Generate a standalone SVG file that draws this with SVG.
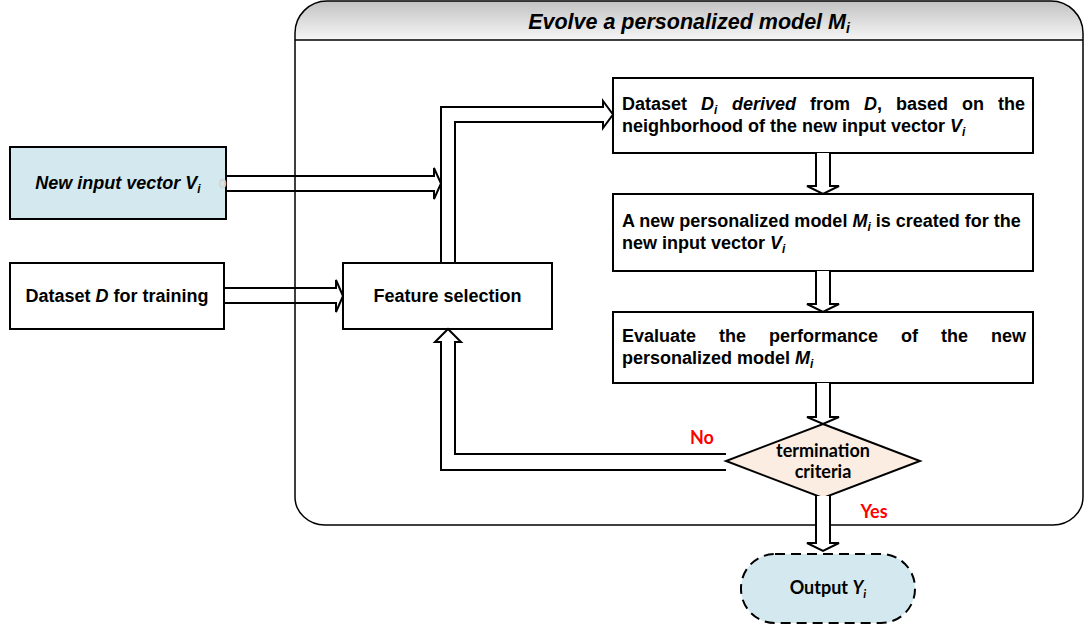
<svg xmlns="http://www.w3.org/2000/svg" width="1085" height="627" viewBox="0 0 1085 627">
  <defs>
    <linearGradient id="headerFill" x1="0" y1="0" x2="0" y2="1">
      <stop offset="0" stop-color="#c2c2c2"/>
      <stop offset="1" stop-color="#f6f6f6"/>
    </linearGradient>
    <style>
      .box { fill: #ffffff; stroke: #000; stroke-width: 2; }
      .blue { fill: #d3e9ef; }
      .txt { font-family: "Liberation Sans", Arial, sans-serif; font-weight: bold; font-size: 18px; fill: #000; }
      .it { font-style: italic; }
      .sub { font-style: italic; font-size: 12px; }
      .title { font-size: 21.5px; }
      .titleSub { font-size: 14px; }
      .cal { font-family: Lato, "Liberation Sans", sans-serif; font-weight: bold; font-size: 18px; }
      .red { fill: #ff0000; }
      .arrow { fill: none; stroke: #000; stroke-width: 2; stroke-linejoin: miter; }
      .arrowFilled { fill: #ffffff; stroke: #000; stroke-width: 2; stroke-linejoin: miter; }
    </style>
  </defs>

  <rect width="1085" height="627" fill="#ffffff"/>

  <!-- outer process frame with shaded title band -->
  <g id="evolve-frame">
    <path d="M295,40 V33 A32,32 0 0 1 327,1 H1051 A32,32 0 0 1 1083,33 V40 Z" fill="url(#headerFill)"/>
    <path d="M295,33 A32,32 0 0 1 327,1 H1051 A32,32 0 0 1 1083,33 V497 A30,28 0 0 1 1053,525 H325 A30,28 0 0 1 295,497 Z" fill="none" stroke="#000" stroke-width="1.5"/>
    <line x1="295" y1="40" x2="1083" y2="40" stroke="#000" stroke-width="1.5"/>
    <text class="txt it title" x="689" y="29" text-anchor="middle">Evolve a personalized model M<tspan class="sub titleSub" dy="4">i</tspan></text>
  </g>

  <g id="new-input-vector">
    <rect class="box blue" x="10" y="147" width="216" height="72"/>
    <text class="txt it" x="118" y="189" text-anchor="middle">New input vector V<tspan class="sub" dy="4">i</tspan></text>
    <text x="219" y="188" font-family="Liberation Sans, sans-serif" font-size="13" fill="#ffffff" stroke="#c4c4c4" stroke-width="0.6">0</text>
  </g>

  <g id="dataset-d">
    <rect class="box" x="10" y="263" width="214" height="66"/>
    <text class="txt" x="117" y="302" text-anchor="middle">Dataset <tspan class="it">D</tspan> for training</text>
  </g>

  <g id="feature-selection">
    <rect class="box" x="343" y="263" width="209" height="66"/>
    <text class="txt" x="447.5" y="302" text-anchor="middle">Feature selection</text>
  </g>

  <g id="dataset-di">
    <rect class="box" x="613" y="78" width="420" height="75"/>
    <text class="txt" y="110"><tspan x="622">Dataset</tspan><tspan x="701" class="it">D</tspan><tspan class="sub" dy="4">i</tspan><tspan x="732" dy="-4" class="it">derived</tspan><tspan x="810">from</tspan><tspan x="864"><tspan class="it">D</tspan>,</tspan><tspan x="896">based</tspan><tspan x="962">on</tspan><tspan x="998">the</tspan></text>
    <text class="txt" x="622" y="132">neighborhood of the new input vector <tspan class="it">V</tspan><tspan class="sub" dy="4">i</tspan></text>
  </g>

  <g id="personalized-model">
    <rect class="box" x="613" y="194" width="420" height="77"/>
    <text class="txt" x="622" y="227">A new personalized model <tspan class="it">M</tspan><tspan class="sub" dy="4">i</tspan><tspan dy="-4"> is created for the</tspan></text>
    <text class="txt" x="622" y="249">new input vector <tspan class="it">V</tspan><tspan class="sub" dy="4">i</tspan></text>
  </g>

  <g id="evaluate">
    <rect class="box" x="613" y="312" width="420" height="71"/>
    <text class="txt" y="342"><tspan x="622">Evaluate</tspan><tspan x="719">the</tspan><tspan x="769">performance</tspan><tspan x="901">of</tspan><tspan x="941">the</tspan><tspan x="991">new</tspan></text>
    <text class="txt" x="622" y="364">personalized model <tspan class="it">M</tspan><tspan class="sub" dy="4">i</tspan></text>
  </g>

  <g id="termination">
    <polygon points="823,424 920,461 823,498 726,461" fill="#fbede2" stroke="#000" stroke-width="2"/>
    <text class="cal" x="823" y="457" text-anchor="middle">termination</text>
    <text class="cal" x="823" y="478" text-anchor="middle">criteria</text>
  </g>

  <g id="output">
    <rect x="741" y="554" width="174" height="69" rx="34" ry="34" fill="#d3e9ef" stroke="#000" stroke-width="2" stroke-dasharray="10 6"/>
    <text class="cal" x="828" y="594" text-anchor="middle">Output <tspan font-style="italic">Y</tspan><tspan font-style="italic" font-size="12" dy="4">i</tspan></text>
  </g>

  <!-- hollow block arrows between the steps -->
  <g id="connectors">
    <path class="arrow" d="M226,176 H434 V168 L441,183.5 L434,199 V191 H226"/>
    <path class="arrow" d="M224,288 H336 V280 L343,296 L336,312 V303 H224"/>
    <path class="arrow" d="M441,263 V107 H603 V101 L613,114.5 L603,128 V122 H455 V263"/>
    <path class="arrow" d="M726,454 H455 V342 H461 L448,329 L435,342 H441 V470 H726"/>
    <path class="arrowFilled" d="M816,153 V186 H807 L823,194 L839,186 H830 V153"/>
    <path class="arrowFilled" d="M816,271 V304 H807 L823,312 L839,304 H830 V271"/>
    <path class="arrowFilled" d="M816,383 V417 H807 L823,424 L839,417 H830 V383"/>
    <path class="arrowFilled" d="M816,496 V543 H807 L823,551 L839,543 H830 V496"/>
    <text class="cal red" x="702" y="444" text-anchor="middle">No</text>
    <text class="cal red" x="874" y="518" text-anchor="middle">Yes</text>
  </g>
</svg>
